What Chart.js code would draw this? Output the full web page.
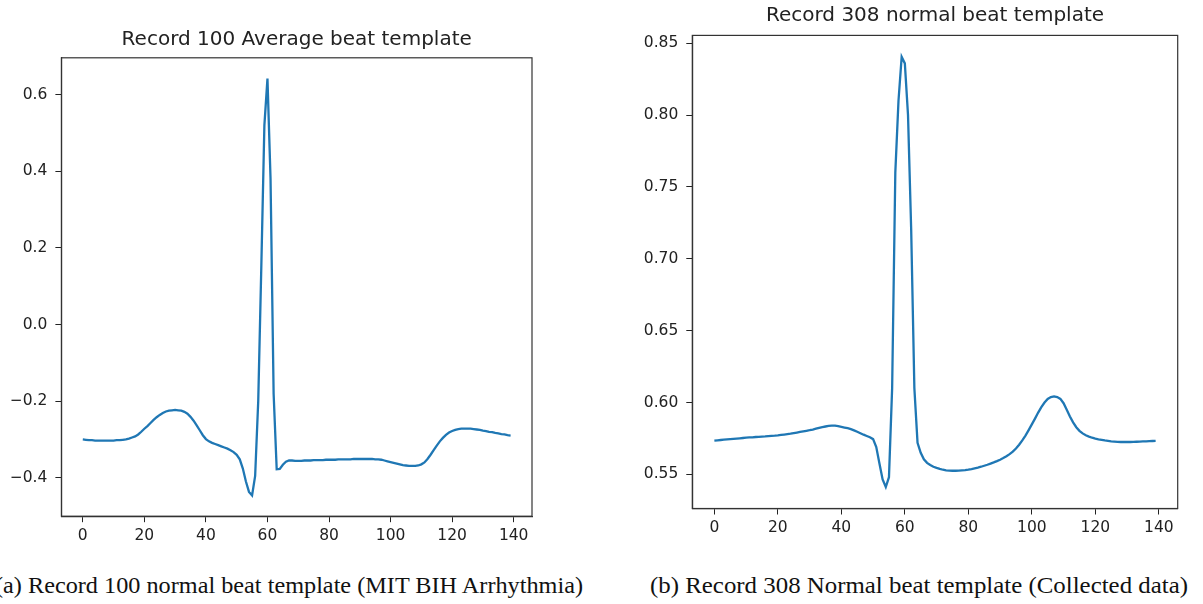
<!DOCTYPE html>
<html>
<head>
<meta charset="utf-8">
<script src="https://cdn.jsdelivr.net/npm/chart.js@4.4.1/dist/chart.umd.min.js"></script>
<style>
  html, body { margin: 0; padding: 0; background: #fff; }
  body { width: 1203px; height: 604px; position: relative; overflow: hidden; }
  canvas { position: absolute; top: 0; }
  #c1 { left: 0px; }
  #c2 { left: 600px; }
  .cap { position: absolute; top: 572px; font-family: "Liberation Serif", "DejaVu Serif", serif; font-size: 23px; color: #111; white-space: nowrap; transform-origin: 0 50%; line-height: 28px; }
</style>
</head>
<body>
<canvas id="c1" width="600" height="560"></canvas>
<canvas id="c2" width="603" height="560"></canvas>
<div class="cap" id="capA">(a) Record 100 normal beat template (MIT BIH Arrhythmia)</div>
<div class="cap" id="capB">(b) Record 308 Normal beat template (Collected data)</div>
<script>
// ---- data ----
const rec100Values = [
 -0.300,-0.301,-0.302,-0.302,-0.303,-0.303,-0.303,-0.303,-0.303,-0.303,
 -0.303,-0.302,-0.302,-0.301,-0.300,-0.298,-0.295,-0.292,-0.287,-0.280,
 -0.272,-0.265,-0.257,-0.249,-0.242,-0.236,-0.231,-0.227,-0.225,-0.224,
 -0.223,-0.224,-0.225,-0.228,-0.233,-0.241,-0.251,-0.263,-0.276,-0.289,
 -0.299,-0.305,-0.309,-0.312,-0.315,-0.318,-0.321,-0.324,-0.328,-0.333,
 -0.340,-0.352,-0.376,-0.410,-0.437,-0.446,-0.395,-0.200, 0.150, 0.520,
  0.642, 0.380,-0.180,-0.378,-0.377,-0.366,-0.358,-0.355,-0.355,-0.356,
 -0.356,-0.356,-0.355,-0.355,-0.355,-0.354,-0.354,-0.354,-0.354,-0.353,
 -0.353,-0.353,-0.353,-0.352,-0.352,-0.352,-0.352,-0.352,-0.351,-0.351,
 -0.351,-0.351,-0.351,-0.351,-0.351,-0.352,-0.352,-0.353,-0.355,-0.357,
 -0.359,-0.361,-0.363,-0.365,-0.367,-0.368,-0.369,-0.369,-0.369,-0.368,
 -0.365,-0.360,-0.351,-0.340,-0.328,-0.316,-0.305,-0.296,-0.288,-0.282,
 -0.278,-0.275,-0.273,-0.272,-0.272,-0.272,-0.272,-0.273,-0.274,-0.275,
 -0.277,-0.278,-0.280,-0.281,-0.283,-0.284,-0.286,-0.287,-0.289,-0.290
];
const rec308Values = [
 0.5735,0.5737,0.5739,0.5741,0.5743,0.5745,0.5747,0.5749,0.5751,0.5753,
 0.5755,0.5757,0.5758,0.5760,0.5761,0.5763,0.5764,0.5766,0.5768,0.5769,
 0.5771,0.5774,0.5777,0.5780,0.5783,0.5787,0.5791,0.5795,0.5799,0.5803,
 0.5807,0.5812,0.5818,0.5824,0.5829,0.5833,0.5837,0.5839,0.5839,0.5836,
 0.5831,0.5826,0.5821,0.5815,0.5806,0.5796,0.5786,0.5776,0.5767,0.5758,
 0.5745,0.5690,0.5575,0.5465,0.5412,0.5480,0.6100,0.7600,0.8100,0.8405,
 0.8360,0.8000,0.7200,0.6100,0.5720,0.5650,0.5605,0.5580,0.5565,0.5553,
 0.5545,0.5538,0.5532,0.5528,0.5526,0.5525,0.5525,0.5526,0.5528,0.5530,
 0.5533,0.5537,0.5542,0.5547,0.5553,0.5560,0.5567,0.5575,0.5583,0.5592,
 0.5602,0.5613,0.5626,0.5641,0.5658,0.5680,0.5706,0.5736,0.5770,0.5808,
 0.5848,0.5888,0.5930,0.5968,0.6000,0.6025,0.6038,0.6042,0.6038,0.6025,
 0.5995,0.5950,0.5903,0.5862,0.5828,0.5803,0.5785,0.5772,0.5763,0.5755,
 0.5749,0.5744,0.5740,0.5736,0.5733,0.5730,0.5728,0.5726,0.5725,0.5725,
 0.5725,0.5725,0.5726,0.5727,0.5728,0.5729,0.5730,0.5731,0.5732,0.5733
];
const xTickValues = [0, 20, 40, 60, 80, 100, 120, 140];
const xTickLabels = ['0', '20', '40', '60', '80', '100', '120', '140'];
const rec100YTicks = [-0.4, -0.2, 0.0, 0.2, 0.4, 0.6];
const rec100YLabels = ['\u22120.4', '\u22120.2', '0.0', '0.2', '0.4', '0.6'];
const rec308YTicks = [0.55, 0.60, 0.65, 0.70, 0.75, 0.80, 0.85];
const rec308YLabels = ['0.55', '0.60', '0.65', '0.70', '0.75', '0.80', '0.85'];
const rec100Title = 'Record 100 Average beat template';
const rec308Title = 'Record 308 normal beat template';

// ---- helpers ----
const LINE_COLOR = '#1f77b4';
const TEXT_COLOR = '#222';
const tickFont = { family: 'DejaVu Sans', size: 15.5 };

function toPoints(vals) { return vals.map((v, i) => ({ x: i, y: v })); }
function withMargin(vals, frac) {
  const mn = Math.min(...vals), mx = Math.max(...vals);
  const r = mx - mn;
  return [mn - frac * r, mx + frac * r];
}

const framePlugin = {
  id: 'frame',
  afterDraw(chart, args, opts) {
    const { ctx, chartArea: a } = chart;
    ctx.save();
    ctx.strokeStyle = '#333';
    ctx.lineWidth = 1.2;
    ctx.strokeRect(a.left, a.top, a.right - a.left, a.bottom - a.top);
    ctx.fillStyle = TEXT_COLOR;
    ctx.font = '20px "DejaVu Sans"';
    ctx.textAlign = 'center';
    ctx.textBaseline = 'middle';
    ctx.fillText(opts.text, (a.left + a.right) / 2, opts.y);
    ctx.restore();
  }
};

function makeChart(id, vals, yTicks, yLabels, title, titleY, pad) {
  const yr = withMargin(vals, 0.05);
  const xr = withMargin(vals.map((_, i) => i), 0.05);
  return new Chart(document.getElementById(id), {
    type: 'line',
    data: {
      datasets: [{
        data: toPoints(vals),
        borderColor: LINE_COLOR,
        borderWidth: 2.3,
        pointRadius: 0,
        tension: 0,
        fill: false
      }]
    },
    options: {
      responsive: false,
      animation: false,
      events: [],
      layout: { padding: pad },
      plugins: {
        legend: { display: false },
        tooltip: { enabled: false },
        title: { display: false },
        frame: { text: title, y: titleY }
      },
      scales: {
        x: {
          type: 'linear',
          min: xr[0], max: xr[1],
          afterBuildTicks: s => { s.ticks = xTickValues.map(v => ({ value: v })); },
          afterFit: s => { s.height = 30; },
          grid: { drawOnChartArea: false, drawTicks: true, tickLength: 6, color: '#222', lineWidth: 1 },
          border: { display: true, color: '#333', width: 1.2 },
          ticks: {
            font: tickFont, color: TEXT_COLOR, padding: 4, maxRotation: 0, autoSkip: false,
            callback: (v) => { const k = xTickValues.indexOf(v); return k >= 0 ? xTickLabels[k] : ''; }
          }
        },
        y: {
          type: 'linear',
          min: yr[0], max: yr[1],
          afterBuildTicks: s => { s.ticks = yTicks.map(v => ({ value: v })); },
          afterFit: s => { s.width = 50; },
          grid: { drawOnChartArea: false, drawTicks: true, tickLength: 6, color: '#222', lineWidth: 1 },
          border: { display: true, color: '#333', width: 1.2 },
          ticks: {
            font: tickFont, color: TEXT_COLOR, padding: 8, autoSkip: false,
            callback: (v) => {
              let k = -1;
              yTicks.forEach((t, i) => { if (Math.abs(t - v) < 1e-9) k = i; });
              return k >= 0 ? yLabels[k] : '';
            }
          }
        }
      }
    },
    plugins: [framePlugin]
  });
}

makeChart('c1', rec100Values, rec100YTicks, rec100YLabels, rec100Title, 40,
  { left: 11.4, right: 68, top: 57.8, bottom: 13.8 });
makeChart('c2', rec308Values, rec308YTicks, rec308YLabels, rec308Title, 16,
  { left: 42.3, right: 25.3, top: 35.4, bottom: 21.5 });

// captions: scale to the measured widths in the reference
const capB = document.getElementById('capB');
const capA = document.getElementById('capA');
const wB = capB.getBoundingClientRect().width;
const wA = capA.getBoundingClientRect().width;
capB.style.left = '650px';
capB.style.transform = 'scaleX(' + (538 / wB) + ')';
capA.style.left = '-5px';
capA.style.transform = 'scaleX(' + (588 / wA) + ')';
</script>
</body>
</html>
